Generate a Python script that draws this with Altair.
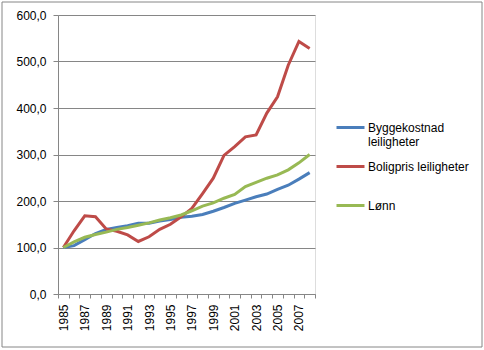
import altair as alt
import pandas as pd

years = list(range(1985, 2009))
byggekostnad = [100, 104, 117, 130, 139, 143, 147, 152, 152, 157, 160, 165, 167, 171, 178, 186,
                195, 202, 209, 215, 225, 234, 247, 261]
boligpris = [100, 136, 168, 166, 140, 135, 127, 113, 123, 139, 150, 166, 184, 216, 249, 298,
             317, 338, 342, 389, 424, 492, 543, 528]
lonn = [100, 112, 122, 128, 133, 139, 143, 148, 153, 159, 164, 170, 179, 189, 196, 206,
        214, 231, 240, 249, 256, 267, 282, 300]
series_names = ["Byggekostnad leiligheter", "Boligpris leiligheter", "Lønn"]
series_colors = ["#4A7EBB", "#BE4B48", "#98B954"]
y_ticks = [0, 100, 200, 300, 400, 500, 600]
x_label_years = list(range(1985, 2009, 2))
x_tick_bounds = [y - 0.5 for y in range(1985, 2010)]

rows = []
for name, vals in zip(series_names, [byggekostnad, boligpris, lonn]):
    for yr, v in zip(years, vals):
        rows.append({"year": yr, "value": v, "series": name})
df = pd.DataFrame(rows)

FONT = "Liberation Sans"
GRAY = "#868686"

xscale = alt.Scale(domain=[1984.5, 2008.5], nice=False, zero=False)

legend_label_expr = (
    "datum.label == 'Byggekostnad leiligheter' ? ['Byggekostnad', 'leiligheter'] : [datum.label, '']"
)

lines = alt.Chart(df).mark_line(strokeWidth=3).encode(
    x=alt.X("year:Q", scale=xscale,
            axis=alt.Axis(title=None, values=x_label_years, format="d", labelAngle=-90,
                          ticks=False, grid=False, domain=True, domainColor=GRAY,
                          labelPadding=10, orient="bottom", labelFont=FONT, labelFontSize=12,
                          labelColor="#000000")),
    y=alt.Y("value:Q", scale=alt.Scale(domain=[0, 600], nice=False),
            axis=alt.Axis(title=None, values=y_ticks, grid=True, gridColor=GRAY,
                          domainColor=GRAY, tickColor=GRAY, tickSize=5, labelPadding=7,
                          labelExpr="replace(format(datum.value, '.1f'), '.', ',')",
                          labelFont=FONT, labelFontSize=12, labelColor="#000000")),
    color=alt.Color("series:N", sort=series_names,
                    scale=alt.Scale(domain=series_names, range=series_colors),
                    legend=alt.Legend(title=None, orient="none", legendX=277, legendY=97,
                                      symbolType="stroke", symbolStrokeWidth=3, symbolSize=784,
                                      labelFont=FONT, labelFontSize=12, labelColor="#000000",
                                      labelOffset=2, rowPadding=3,
                                      labelExpr=legend_label_expr)),
)

tick_df = pd.DataFrame({"b": x_tick_bounds})
ticks_layer = alt.Chart(tick_df).mark_point(opacity=0).encode(
    x=alt.X("b:Q", scale=xscale,
            axis=alt.Axis(title=None, values=x_tick_bounds, labels=False, grid=False,
                          domain=False, ticks=True, tickColor=GRAY, tickSize=4, orient="bottom")),
)

border = alt.Chart(pd.DataFrame({"k": [0]})).mark_rect(fill=None, stroke=GRAY, strokeWidth=1).encode(
    x=alt.value(-56), x2=alt.value(424), y=alt.value(-13), y2=alt.value(332)
)

chart = alt.layer(border, lines, ticks_layer).resolve_axis(x="independent").properties(
    width=257, height=279,
    padding={"left": 58, "top": 15, "right": 169, "bottom": 56},
    autosize=alt.AutoSizeParams(type="none"),
).configure_view(stroke=None).configure(background="white")

chart.save("out.html", embed_options={"renderer": "svg", "actions": False})
